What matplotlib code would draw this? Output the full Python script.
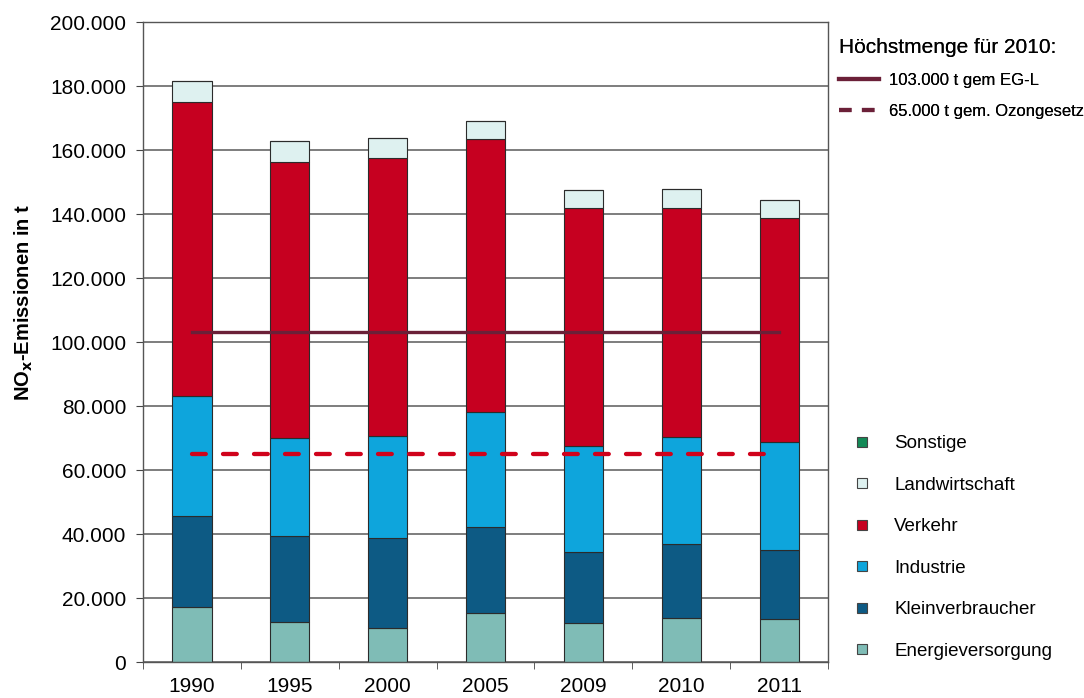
import matplotlib

matplotlib.use("Agg")
import matplotlib.pyplot as plt
import numpy as np
from matplotlib.lines import Line2D
from matplotlib.ticker import FuncFormatter, FixedLocator

plt.rcParams["font.family"] = ["Liberation Sans", "DejaVu Sans"]

years = ["1990", "1995", "2000", "2005", "2009", "2010", "2011"]

# NOx emissions by sector, tonnes
energie = [17300, 12600, 10700, 15400, 12300, 13800, 13300]
klein = [28300, 26900, 27900, 26900, 22200, 23100, 21700]
industrie = [37500, 30600, 32000, 35700, 33100, 33500, 33700]
verkehr = [92000, 86200, 86800, 85400, 74200, 71600, 70000]
landwirtschaft = [6500, 6500, 6200, 5700, 5700, 5700, 5700]
sonstige = [0, 0, 0, 0, 0, 0, 0]

limit_eg = 103000
limit_ozon = 65000

series = [
    ("Energieversorgung", energie, "#7fbcb6"),
    ("Kleinverbraucher", klein, "#0d5a84"),
    ("Industrie", industrie, "#0ea5dc"),
    ("Verkehr", verkehr, "#c60020"),
    ("Landwirtschaft", landwirtschaft, "#def1f0"),
    ("Sonstige", sonstige, "#138a57"),
]

fig = plt.figure(figsize=(10.84, 6.98), dpi=100)
ax = fig.add_axes([143 / 1084, 1 - 662 / 698, 685 / 1084, 640 / 698])

x = np.arange(len(years))
bottom = np.zeros(len(years))
for name, vals, color in series:
    ax.bar(x, vals, 0.4, bottom=bottom, color=color, edgecolor="#2b2b2b",
           linewidth=0.8, zorder=2)
    bottom += np.asarray(vals, dtype=float)

ax.plot([x[0], x[-1]], [limit_eg, limit_eg], color="#6b2038", lw=2.4, zorder=3)
ax.plot([x[0], x[-1]], [limit_ozon, limit_ozon], color="#d0021b", lw=3.1,
        dashes=(3.2, 4.0), dash_capstyle="round", zorder=3)

ax.set_xlim(-0.5, len(years) - 0.5)
ax.set_ylim(0, 200000)
ax.set_yticks(np.arange(0, 200001, 20000))
ax.yaxis.set_major_formatter(FuncFormatter(lambda v, _: f"{int(v):,}".replace(",", ".")))
ax.grid(axis="y", color="#5a5a5a", lw=1.1, zorder=0)
ax.set_axisbelow(True)

ax.set_xticks(x)
ax.set_xticklabels(years)
ax.tick_params(axis="x", length=0, labelsize=15, pad=11)
ax.xaxis.set_minor_locator(FixedLocator(np.arange(-0.5, len(years), 1.0)))
ax.tick_params(axis="x", which="minor", length=5, color="#444444", direction="out")
ax.tick_params(axis="y", length=5, labelsize=15, color="#444444", pad=7)

for sp in ax.spines.values():
    sp.set_color("#555555")
    sp.set_linewidth(1)

ax.set_ylabel(r"NO$_\mathbf{x}$-Emissionen in t", fontsize=14.5, fontweight="bold")
ax.yaxis.set_label_coords(-0.157, 0.5625)

# limit lines legend
lim_handles = [
    Line2D([], [], color="#6b2038", lw=3),
    Line2D([], [], color="#6b2038", lw=3, dashes=(3, 2.5)),
]
leg1 = fig.legend(lim_handles, ["103.000 t gem EG-L", "65.000 t gem. Ozongesetz"],
                  title="Höchstmenge für 2010:", loc="upper left",
                  bbox_to_anchor=(830 / 1084, 1 - 29 / 698), frameon=False,
                  fontsize=12, title_fontsize=15, handlelength=2.4,
                  handletextpad=0.6, labelspacing=0.95, alignment="left",
                  borderaxespad=0, borderpad=0.55)
fig.add_artist(leg1)

# sector legend, top entry is the top of the stack
sec_handles = [
    Line2D([], [], ls="", marker="s", markersize=7, markerfacecolor=c,
           markeredgecolor="#444444", markeredgewidth=0.8)
    for _, _, c in reversed(series)
]
sec_labels = [n for n, _, _ in reversed(series)]
fig.legend(sec_handles, sec_labels, loc="upper left",
           bbox_to_anchor=(853 / 1084, 1 - 435 / 698), frameon=False,
           fontsize=13.5, handlelength=1.0, handletextpad=1.2,
           labelspacing=1.3, borderaxespad=0, borderpad=0)

fig.savefig("out.png", dpi=100)
